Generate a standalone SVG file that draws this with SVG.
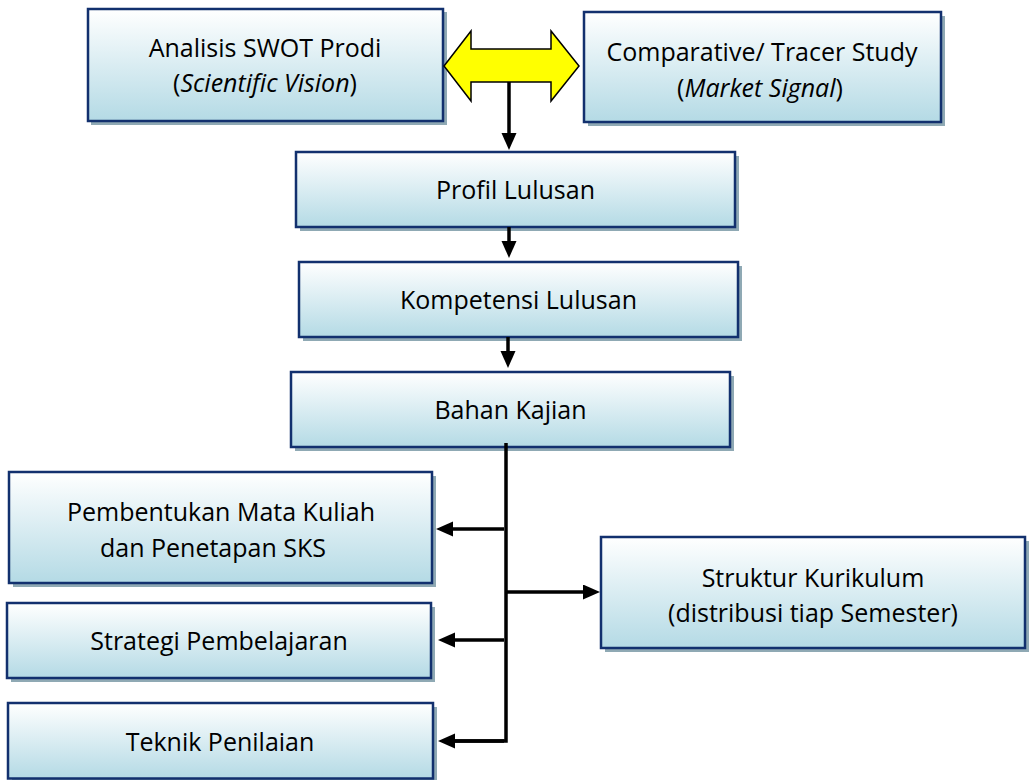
<svg xmlns="http://www.w3.org/2000/svg" width="1032" height="780" viewBox="0 0 1032 780">
  <defs>
    <linearGradient id="boxFill" x1="0" y1="0" x2="0" y2="1">
      <stop offset="0" stop-color="#ffffff"/>
      <stop offset="1" stop-color="#b4dae5"/>
    </linearGradient>
    <marker id="arrow" markerUnits="userSpaceOnUse" markerWidth="18" markerHeight="16" refX="1" refY="7.5" orient="auto">
      <path d="M0,0 L17,7.5 L0,15 Z" fill="#000"/>
    </marker>
    <style>
      .shadow { fill: #8fa9b4; }
      .box { fill: url(#boxFill); stroke: #12306e; stroke-width: 2.5; }
      .lbl { font-family: "Open Sans", "Noto Sans", sans-serif; font-size: 25px; fill: #000; text-anchor: middle; }
      .it { font-style: italic; }
      .conn { stroke: #000; stroke-width: 3.5; fill: none; }
      .trunk { stroke: #000; stroke-width: 3.5; fill: none; }
    </style>
  </defs>
  <rect width="1032" height="780" fill="#ffffff"/>

  <g id="swot">
    <rect class="shadow" x="91" y="12" width="356" height="113"/>
    <rect class="box" x="88" y="9" width="355" height="112"/>
    <text class="lbl" x="265" y="57">Analisis SWOT Prodi</text>
    <text class="lbl" x="265" y="92">(<tspan class="it">Scientific Vision</tspan>)</text>
  </g>

  <g id="tracer">
    <rect class="shadow" x="588" y="16" width="357" height="110"/>
    <rect class="box" x="584" y="12" width="357" height="110"/>
    <text class="lbl" x="762" y="61">Comparative/ Tracer Study</text>
    <text class="lbl" x="760" y="97">(<tspan class="it">Market Signal</tspan>)</text>
  </g>

  <g id="profil">
    <rect class="shadow" x="300" y="156" width="439" height="75"/>
    <rect class="box" x="296" y="152" width="439" height="75"/>
    <text class="lbl" x="515.5" y="199">Profil Lulusan</text>
  </g>

  <g id="kompetensi">
    <rect class="shadow" x="303" y="266" width="439" height="75"/>
    <rect class="box" x="299" y="262" width="439" height="75"/>
    <text class="lbl" x="518.5" y="309">Kompetensi Lulusan</text>
  </g>

  <g id="bahan">
    <rect class="shadow" x="295" y="376" width="439" height="75"/>
    <rect class="box" x="291" y="372" width="439" height="75"/>
    <text class="lbl" x="510.5" y="419">Bahan Kajian</text>
  </g>

  <g id="pembentukan">
    <rect class="shadow" x="13" y="476" width="423" height="111"/>
    <rect class="box" x="9" y="472" width="423" height="111"/>
    <text class="lbl" x="221" y="521">Pembentukan Mata Kuliah</text>
    <text class="lbl" x="213" y="557">dan Penetapan SKS</text>
  </g>

  <g id="strategi">
    <rect class="shadow" x="11" y="607" width="424" height="75"/>
    <rect class="box" x="7" y="603" width="424" height="75"/>
    <text class="lbl" x="219" y="650">Strategi Pembelajaran</text>
  </g>

  <g id="teknik">
    <rect class="shadow" x="12" y="707" width="425" height="76"/>
    <rect class="box" x="8" y="703" width="425" height="75.5"/>
    <text class="lbl" x="220" y="751">Teknik Penilaian</text>
  </g>

  <g id="struktur">
    <rect class="shadow" x="605" y="541" width="424" height="111"/>
    <rect class="box" x="601" y="537" width="424" height="111"/>
    <text class="lbl" x="813" y="587">Struktur Kurikulum</text>
    <text class="lbl" x="813" y="622">(distribusi tiap Semester)</text>
  </g>

  <g id="connectors">
    <polygon points="444,66 471,31 471,49 551,49 551,31 579,66 551,101 551,82 471,82 471,101" fill="#ffff00" stroke="#000" stroke-width="1.5" stroke-linejoin="miter"/>
    <line class="conn" x1="509" y1="82" x2="509" y2="134" marker-end="url(#arrow)"/>
    <line class="conn" x1="509" y1="227" x2="509" y2="242" marker-end="url(#arrow)"/>
    <line class="conn" x1="508" y1="337" x2="508" y2="352" marker-end="url(#arrow)"/>
    <polyline class="trunk" points="506,443 506,741 454,741"/>
    <line class="conn" x1="504" y1="529" x2="452" y2="529" marker-end="url(#arrow)"/>
    <line class="conn" x1="504" y1="640" x2="454" y2="640" marker-end="url(#arrow)"/>
    <line class="conn" x1="504" y1="741" x2="454" y2="741" marker-end="url(#arrow)"/>
    <line class="conn" x1="506" y1="592" x2="584" y2="592" marker-end="url(#arrow)"/>
  </g>
</svg>
